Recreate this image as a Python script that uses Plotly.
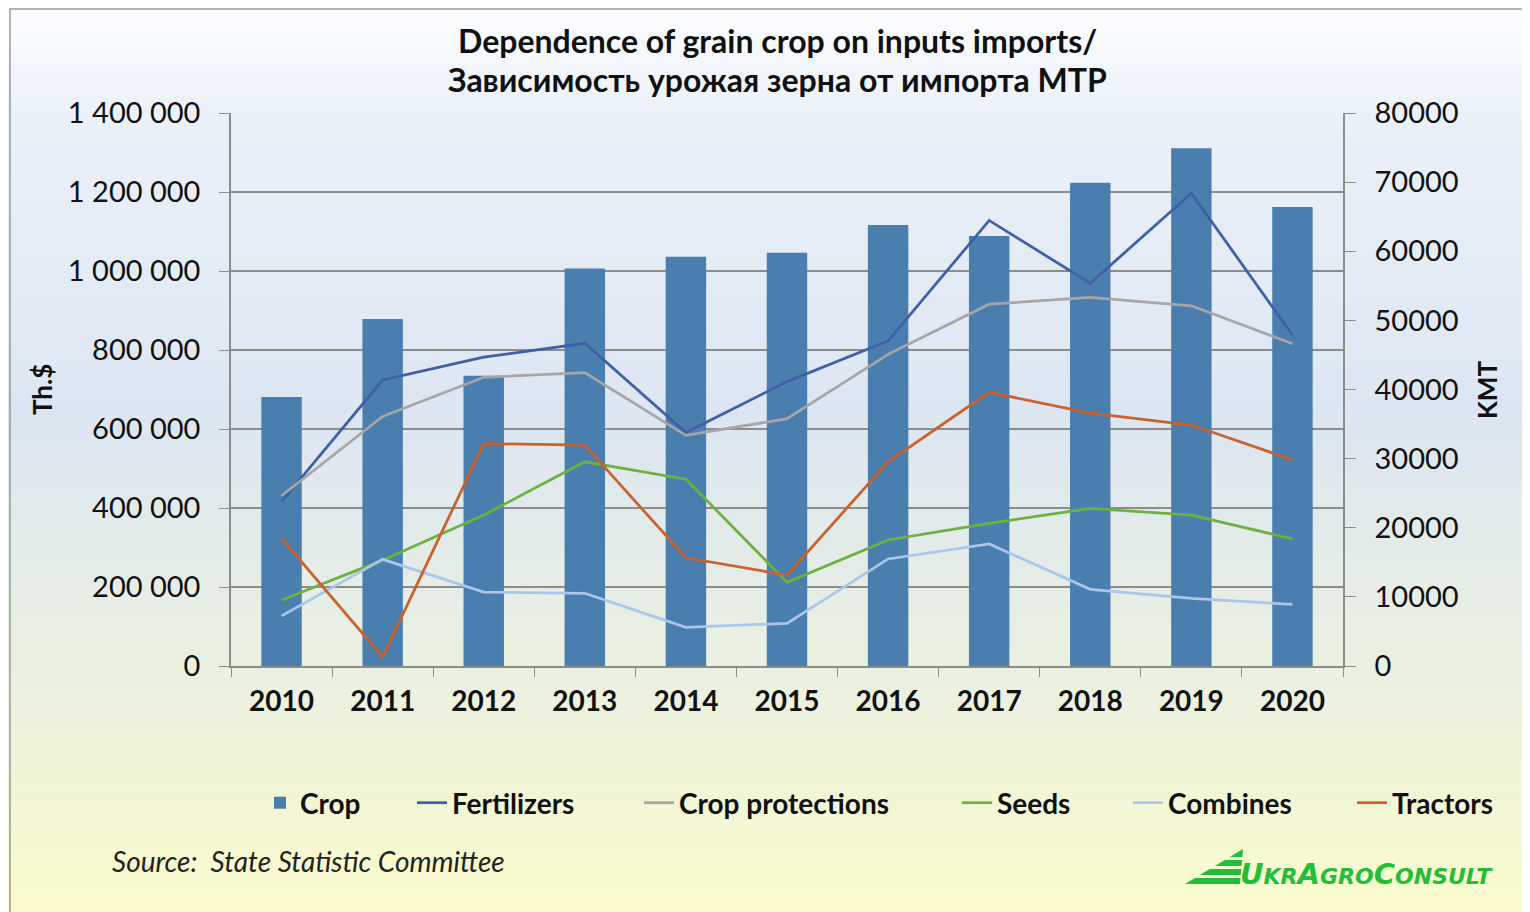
import base64

import plotly.graph_objects as go

# ---- data ----
years = ["2010", "2011", "2012", "2013", "2014", "2015", "2016", "2017", "2018", "2019", "2020"]

crop_kmt = [38900, 50200, 42000, 57500, 59200, 59800, 63800, 62200, 69900, 74900, 66400]

fertilizers = [416000, 724000, 782000, 817000, 591000, 720000, 823000, 1128000, 969000, 1197000, 838000]
crop_protections = [431000, 632000, 731000, 743000, 584000, 626000, 789000, 916000, 933000, 912000, 816000]
seeds = [167000, 268000, 382000, 517000, 473000, 212000, 319000, 361000, 399000, 382000, 322000]
combines = [127000, 270000, 187000, 184000, 98000, 108000, 271000, 309000, 194000, 171000, 156000]
tractors = [323000, 23000, 563000, 559000, 274000, 230000, 517000, 693000, 640000, 610000, 522000]

line_series = [
    ("Fertilizers", fertilizers, "#3F5FA6"),
    ("Crop protections", crop_protections, "#A6A6A6"),
    ("Seeds", seeds, "#6DB13F"),
    ("Combines", combines, "#AAC6EA"),
    ("Tractors", tractors, "#C9622B"),
]

TITLE_1 = "Dependence of grain crop on inputs imports/"
TITLE_2 = "Зависимость урожая зерна от импорта МТР"
FONT = "Lato"

# the page body has an 8px margin, so the figure is drawn 8px in and 8px smaller
OFF = 8
W, H = 1530 - OFF, 912 - OFF
PLOT_X0, PLOT_X1, PLOT_Y0, PLOT_Y1 = 231, 1343, 113, 666   # plot area in screen pixels
PW, PH = PLOT_X1 - PLOT_X0, PLOT_Y1 - PLOT_Y0
L, T = PLOT_X0 - OFF, PLOT_Y0 - OFF
R, B = W - L - PW, H - T - PH


def px(x):
    return (x - PLOT_X0) / PW


def py(y):
    return (PLOT_Y1 - y) / PH


fig = go.Figure()

# bars live on the main (right-hand, KMT) axis so the lines draw above them
fig.add_trace(go.Bar(x=years, y=crop_kmt, name="Crop", marker_color="#4A7EAF",
                     marker_line_width=0, yaxis="y", legend="legend"))

for i, (name, vals, color) in enumerate(line_series):
    fig.add_trace(go.Scatter(x=years, y=vals, name=name, mode="lines",
                             line=dict(color=color, width=2.75), yaxis="y2",
                             legend="legend{}".format(i + 2)))

# gradient background, like the Excel chart area fill
svg = (
    '<svg xmlns="http://www.w3.org/2000/svg" width="1522" height="904" preserveAspectRatio="none">'
    '<defs><linearGradient id="g" x1="0" y1="0" x2="0" y2="1">'
    '<stop offset="0" stop-color="#FDFEFF"/>'
    '<stop offset="0.12" stop-color="#EBF1F9"/>'
    '<stop offset="0.45" stop-color="#DCE6F2"/>'
    '<stop offset="0.75" stop-color="#EBF1DF"/>'
    '<stop offset="1" stop-color="#FBFBCC"/>'
    '</linearGradient></defs>'
    '<rect width="1522" height="904" fill="url(#g)"/></svg>'
)
bg_src = "data:image/svg+xml;base64," + base64.b64encode(svg.encode()).decode()

axis_grey = "#8C8C8C"
legend_font = dict(family=FONT, size=28, weight="bold", color="#111111")

fig.update_layout(
    width=W, height=H,
    margin=dict(l=L, r=R, t=T, b=B, pad=0),
    paper_bgcolor="white",
    plot_bgcolor="rgba(0,0,0,0)",
    separators=". ",
    font=dict(family=FONT, color="#111111"),
    bargap=0.6,
    showlegend=True,
    xaxis=dict(type="category", showline=True, linecolor=axis_grey, linewidth=1.5,
               ticks="outside", tickson="boundaries", ticklen=9, tickcolor=axis_grey,
               tickfont=dict(family=FONT, size=28, weight="bold", color="#111111"),
               ticklabelstandoff=10, showgrid=False, range=[-0.5, 10.5]),
    yaxis=dict(side="right", range=[0, 80000], dtick=10000, tickformat="d",
               showgrid=False, zeroline=False, showline=True, linecolor=axis_grey, linewidth=1.5,
               ticks="outside", ticklen=11, tickcolor=axis_grey, ticklabelstandoff=13,
               tickfont=dict(family=FONT, size=29, color="#111111")),
    yaxis2=dict(overlaying="y", side="left", range=[0, 1400000], dtick=200000, tickformat=",d",
                showgrid=True, gridcolor=axis_grey, gridwidth=1.5, zeroline=False,
                showline=True, linecolor=axis_grey, linewidth=1.5,
                ticks="outside", ticklen=10, tickcolor=axis_grey, ticklabelstandoff=13,
                tickfont=dict(family=FONT, size=29, color="#111111")),
    images=[dict(source=bg_src, xref="paper", yref="paper", x=px(OFF), y=py(OFF),
                 sizex=W / PW, sizey=H / PH, xanchor="left", yanchor="top",
                 sizing="stretch", layer="below")],
)

# one legend per entry so each sits where Excel put it
legend_starts = [260, 412, 639, 957, 1128, 1352]
for i, x0 in enumerate(legend_starts):
    key = "legend" if i == 0 else "legend{}".format(i + 1)
    fig.update_layout({key: dict(orientation="h", x=px(x0), xanchor="left", y=py(803),
                                 yanchor="middle", font=legend_font,
                                 bgcolor="rgba(0,0,0,0)", borderwidth=0)})

# chart border (the picture is cropped on the right and bottom)
fig.add_shape(type="rect", xref="paper", yref="paper", x0=px(10), y0=py(H + 40),
              x1=px(W + 40), y1=py(9), line=dict(color="#9A9A9A", width=1.5), layer="below")

annotations = [
    dict(text="<b>" + TITLE_1 + "</b>", x=px(777), y=py(40), size=32),
    dict(text="<b>" + TITLE_2 + "</b>", x=px(777), y=py(80), size=32),
    dict(text="<b>Th.$</b>", x=px(42), y=py(390), size=26, textangle=-90),
    dict(text="<b>KMT</b>", x=px(1487), y=py(390), size=26, textangle=-90),
]
for a in annotations:
    fig.add_annotation(text=a["text"], xref="paper", yref="paper", x=a["x"], y=a["y"],
                       xanchor="center", yanchor="middle", showarrow=False,
                       textangle=a.get("textangle", 0),
                       font=dict(family=FONT, size=a["size"], color="#111111"))

fig.add_annotation(text="<i>Source:  State Statistic Committee</i>", xref="paper", yref="paper",
                   x=px(110), y=py(861), xanchor="left", yanchor="middle", showarrow=False,
                   font=dict(family=FONT, size=28, color="#222222"))

# UkrAgroConsult logo: striped triangle + small-caps wordmark
logo_green = "#22BE3A"
tip_x, tip_y, base_l, base_y = 1243, 849, 1185, 884
bands = [(849, 857), (860, 866), (869, 875), (878, 884)]
for y0, y1 in bands:
    def xl(y):
        return tip_x - (tip_x - base_l) * (y - tip_y) / (base_y - tip_y)
    path = "M {} {} L {} {} L {} {} L {} {} Z".format(
        px(xl(y0)), py(y0), px(tip_x - 3 * (y0 - tip_y) / 35), py(y0),
        px(tip_x - 3 * (y1 - tip_y) / 35), py(y1), px(xl(y1)), py(y1))
    fig.add_shape(type="path", xref="paper", yref="paper", path=path,
                  fillcolor=logo_green, line=dict(width=0))

small = "<span style='font-size:22px'>{}</span>"
logo_text = "<b><i>U" + small.format("KR") + "A" + small.format("GRO") + "C" + small.format("ONSULT") + "</i></b>"
fig.add_annotation(text=logo_text, xref="paper", yref="paper", x=px(1238), y=py(874),
                   xanchor="left", yanchor="middle", showarrow=False,
                   font=dict(family="DejaVu Sans", size=29, color=logo_green))

fig.write_html("out.html")
